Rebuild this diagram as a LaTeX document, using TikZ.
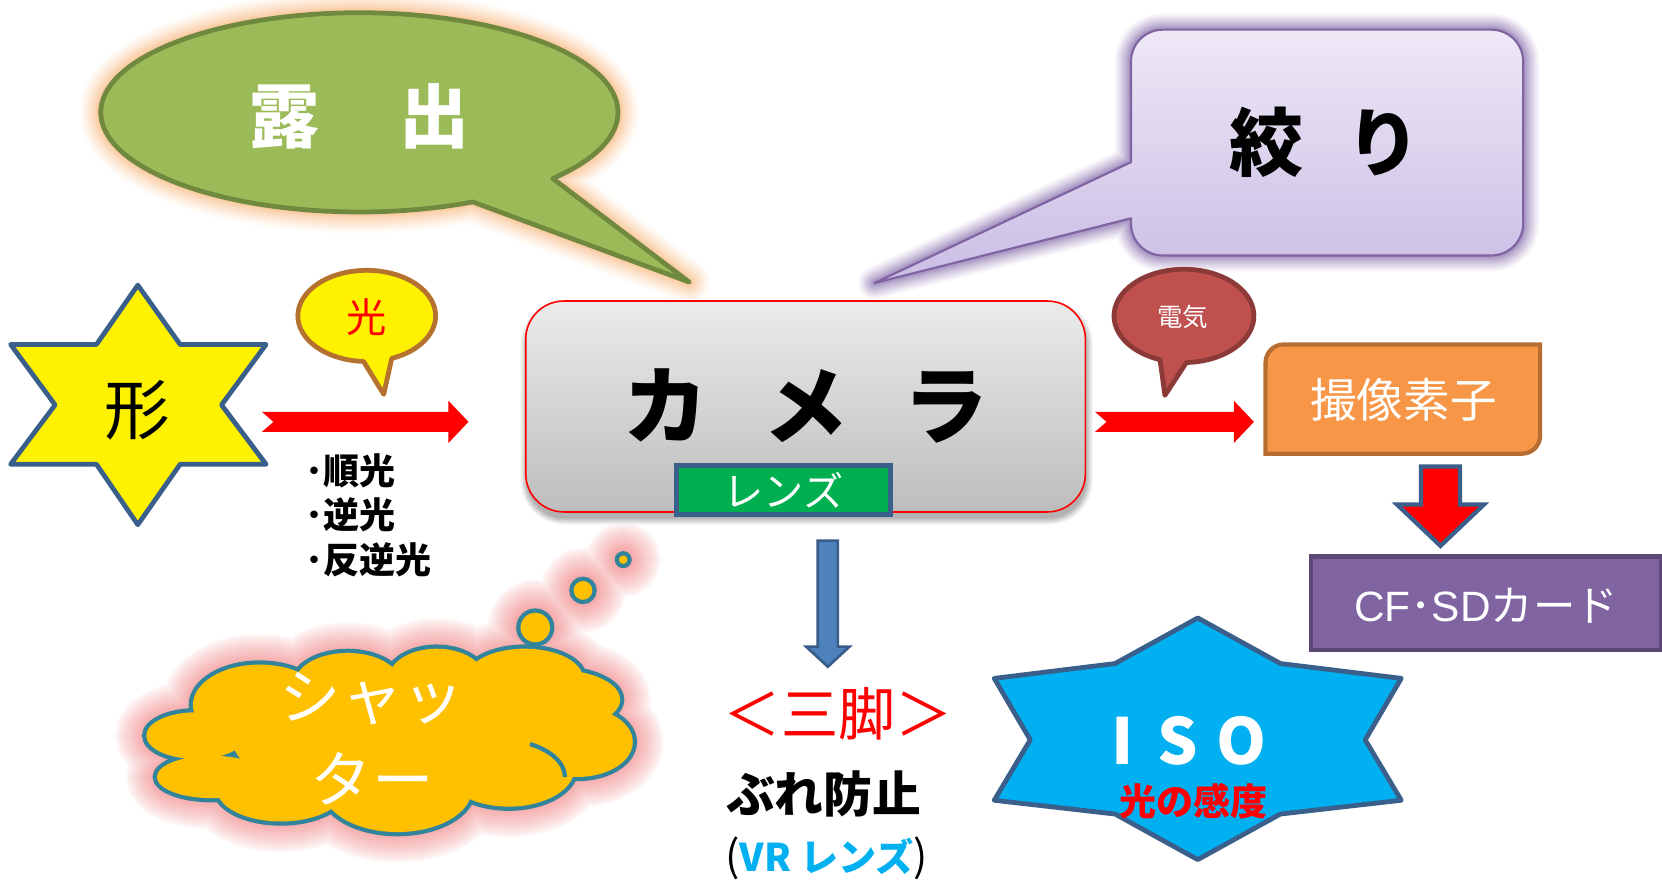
\documentclass[tikz,border=0pt]{standalone}
\usepackage{fontspec}
\setmainfont{Noto Sans CJK JP}
\newfontfamily\arialf{Liberation Sans}
\usetikzlibrary{calc}
\definecolor{gFill}{HTML}{9BBB59}
\definecolor{gLine}{HTML}{71893F}
\definecolor{gGlow}{HTML}{F7B57A}
\definecolor{pTop}{HTML}{EEE8F6}
\definecolor{pBot}{HTML}{CABDE5}
\definecolor{pLine}{HTML}{8064A2}
\definecolor{pGlow}{HTML}{8A70AE}
\definecolor{navy}{HTML}{3A5F8B}
\definecolor{brownL}{HTML}{B5722F}
\definecolor{camTop}{HTML}{EBEBEB}
\definecolor{camBot}{HTML}{BDBDBD}
\definecolor{lensG}{HTML}{00B050}
\definecolor{denkiF}{HTML}{C0504D}
\definecolor{denkiL}{HTML}{8C3A38}
\definecolor{orF}{HTML}{F79646}
\definecolor{orL}{HTML}{B66D31}
\definecolor{cardF}{HTML}{8064A2}
\definecolor{cardL}{HTML}{5C4776}
\definecolor{blueF}{HTML}{4F81BD}
\definecolor{blueL}{HTML}{385D8A}
\definecolor{isoF}{HTML}{00B0F0}
\definecolor{cloudF}{HTML}{FFC000}
\definecolor{cloudL}{HTML}{31849B}
\definecolor{cGlow}{HTML}{F4A2A2}
\definecolor{vrC}{HTML}{00B0F0}
\tikzset{
  lbl/.style={inner sep=0pt, outer sep=0pt},
  hblock/.style={to path={let \p1=(\tikztostart), \p2=(\tikztotarget) in
    (\x1,\y1+9.5pt) -- (\x2-19pt,\y1+9.5pt) -- (\x2-19pt,\y1+20pt) -- (\x2,\y1)
    -- (\x2-19pt,\y1-20pt) -- (\x2-19pt,\y1-9.5pt) -- (\x1,\y1-9.5pt) -- (\x1+11pt,\y1) -- cycle}},
  vblock/.style n args={3}{to path={let \p1=(\tikztostart), \p2=(\tikztotarget) in
    (\x1-#1,\y1) -- (\x1+#1,\y1) -- (\x1+#1,\y2+#3) -- (\x1+#2,\y2+#3) -- (\x2,\y2)
    -- (\x1-#2,\y2+#3) -- (\x1-#1,\y2+#3) -- cycle}},
}
\def\greenshape{(521.5,-168.4) arc[start angle=-41.6, end angle=296, x radius=244, y radius=94] -- (650,-266) -- cycle}
\def\purpleshape{(825,-267) -- (1067,-206) -- (1067,-211) arc[start angle=180,end angle=270,radius=30] -- (1407,-241) arc[start angle=270,end angle=360,radius=30] -- (1437,-58) arc[start angle=0,end angle=90,radius=30] -- (1097,-28) arc[start angle=90,end angle=180,radius=30] -- (1067,-153) -- cycle}
\def\cloudshape{(185,-694) ellipse[x radius=47,y radius=22]
 (200,-733) ellipse[x radius=52,y radius=20]
 (265,-745) ellipse[x radius=60,y radius=30]
 (375,-745) ellipse[x radius=70,y radius=40]
 (480,-725) ellipse[x radius=62,y radius=36]
 (545,-700) ellipse[x radius=52,y radius=33]
 (525,-660) ellipse[x radius=60,y radius=28]
 (495,-640) ellipse[x radius=55,y radius=28]
 (412,-640) ellipse[x radius=45,y radius=28]
 (328,-645) ellipse[x radius=50,y radius=29]
 (245,-665) ellipse[x radius=63,y radius=38]}
\def\bubbles{(505,-592) circle[radius=16] (550,-557) circle[radius=11] (588,-528) circle[radius=6]}
\begin{document}
\begin{tikzpicture}[x=1pt,y=1pt]
\useasboundingbox (0,0) rectangle (1568,-832);
% ---- glows and shadows
\foreach \i in {14,13,...,1}
  {\pgfmathsetmacro\w{3*\i}\pgfmathtruncatemacro\c{85*(1-\i/15)^1.3}
   \draw[line width=\w pt, draw=gGlow!\c, line join=round] \greenshape;}
\foreach \i in {12,11,...,1}
  {\pgfmathsetmacro\w{2.6*\i}\pgfmathtruncatemacro\c{85*(1-\i/13)^1.2}
   \draw[line width=\w pt, draw=pGlow!\c, line join=round] \purpleshape;}
\foreach \i in {16,15,...,1}
  {\pgfmathsetmacro\w{3.6*\i}\pgfmathtruncatemacro\c{100*(1-\i/17)^0.8}
   \draw[line width=\w pt, draw=cGlow!\c] \cloudshape \bubbles;}
\foreach \i in {6,5,...,1}
  {\pgfmathsetmacro\w{2*\i}\pgfmathtruncatemacro\c{30*(1-\i/7)}
   \draw[line width=\w pt, draw=black!\c, rounded corners=36pt] (497,-289) rectangle (1025,-489);}
\fill[black!30, rounded corners=36pt] (497,-289) rectangle (1025,-489);
% ---- callouts
\draw[fill=gFill, draw=gLine, line width=4.5pt, line join=round] \greenshape;
\draw[top color=pTop, bottom color=pBot, draw=pLine, line width=2pt, line join=round] \purpleshape;
% ---- star 形
\draw[fill=yellow, draw=navy, line width=4.5pt, line join=round]
  (130,-269) -- (170,-325) -- (251,-325) -- (209,-382) -- (251,-438) -- (170,-438)
  -- (130,-495) -- (91,-438) -- (10,-438) -- (52,-382) -- (10,-325) -- (91,-325) -- cycle;
% ---- 光 callout
\draw[fill=yellow, draw=brownL, line width=4.5pt, line join=round]
  (369.6,-338.1) arc[start angle=-68.7, end angle=267.3, x radius=65, y radius=43] -- (362,-372) -- cycle;
% ---- 電気 callout
\draw[fill=denkiF, draw=denkiL, line width=4.5pt, line join=round]
  (1119.3,-342) arc[start angle=-88, end angle=250, x radius=66, y radius=44] -- (1099,-373) -- cycle;
% ---- camera
\node[draw=red, line width=1.5pt, rounded corners=36pt, top color=camTop, bottom color=camBot,
  minimum width=528pt, minimum height=199pt, inner sep=0pt] (camera) at (760,-383.5) {};
\node[draw=navy, line width=4.5pt, fill=lensG, minimum width=202pt, minimum height=46pt, inner sep=0pt,
  text=white, font=\fontsize{38}{40}\selectfont] (lens) at (739,-462.5) {レンズ};
% ---- 撮像素子
\draw[fill=orF, draw=orL, line width=4pt]
  (1211,-325) -- (1453,-325) -- (1453,-411) arc[start angle=0,end angle=-90,radius=17]
  -- (1194,-428) -- (1194,-342) arc[start angle=180,end angle=90,radius=17] -- cycle;
% ---- CF card
\node[draw=cardL, line width=4pt, fill=cardF, minimum width=330pt, minimum height=88pt, inner sep=0pt] (cardbox) at (1402,-569) {};
% ---- cloud
\draw[draw=cloudL, line width=8pt] \cloudshape;
\fill[cloudF] \cloudshape (380,-700) ellipse[x radius=160, y radius=55];
\draw[draw=cloudL, line width=4pt] (500,-702) .. controls (520,-708) and (533,-720) .. (533,-733);
\draw[fill=cloudF, draw=cloudL, line width=4pt] \bubbles;
% ---- ISO star
\draw[fill=isoF, draw=navy, line width=4.5pt, line join=round]
  (1130,-583) -- (1208,-626) -- (1322,-640) -- (1288,-698) -- (1322,-755) -- (1208,-768)
  -- (1130,-811) -- (1052,-768) -- (938,-755) -- (972,-698) -- (938,-640) -- (1052,-626) -- cycle;
% ---- arrows
\coordinate (a1s) at (247,-398); \coordinate (a1e) at (442,-398);
\coordinate (a2s) at (1033,-398); \coordinate (a2e) at (1183,-398);
\coordinate (b1s) at (781,-510); \coordinate (b1e) at (781,-629);
\coordinate (r1s) at (1359,-440); \coordinate (r1e) at (1359,-515);
\fill[red, hblock] (a1s) to (a1e);
\fill[red, hblock] (a2s) to (a2e);
\draw[fill=blueF, draw=blueL, line width=2.5pt, line join=miter, vblock={9.5pt}{20.5pt}{19pt}] (b1s) to (b1e);
\draw[fill=red, draw=navy, line width=4pt, line join=miter, vblock={18.5pt}{41pt}{39pt}] (r1s) to (r1e);
% ---- texts
\node[lbl, text=white, font=\bfseries\fontsize{66}{70}\selectfont] (roshutsu) at (339,-110) {露\hspace{76pt}出};
\node[lbl, font=\bfseries\fontsize{70}{74}\selectfont] (shibori) at (1250,-134) {絞\hspace{40pt}り};
\node[lbl, font=\fontsize{62}{64}\selectfont] (katachi) at (130,-387) {形};
\node[lbl, text=red, font=\fontsize{38}{40}\selectfont] (hikari) at (346,-299) {光};
\node[lbl, anchor=west, align=left, font=\bfseries\fontsize{34}{42}\selectfont] (junko) at (288,-486) {･順光\\･逆光\\･反逆光};
\node[lbl, font=\bfseries\fontsize{80}{84}\selectfont] (cameralbl) at (760,-383) {カ\hspace{52pt}メ\hspace{52pt}ラ};
\node[lbl, text=white, font=\fontsize{24}{26}\selectfont] (denki) at (1116,-299) {電気};
\node[lbl, text=white, font=\fontsize{44}{46}\selectfont] (satsuzo) at (1324,-377) {撮像素子};
\node[lbl, text=white, font=\fontsize{40}{42}\selectfont] (card) at (1402,-571) {{\arialf CF}･{\arialf SD}カード};
\node[lbl, text=white, align=center, font=\fontsize{58}{78}\selectfont] (shutter) at (351,-697) {シャッ\\ター};
\node[lbl, text=red, font=\fontsize{54}{56}\selectfont] (sankyaku) at (791,-673) {＜三脚＞};
\node[lbl, font=\bfseries\fontsize{46}{48}\selectfont] (bure) at (777,-749) {ぶれ防止};
\node[lbl, font=\fontsize{36}{40}\selectfont] (vr) at (780,-810) {{\fontsize{40}{44}\selectfont (}{\color{vrC}\bfseries VR レンズ}{\fontsize{40}{44}\selectfont )}};
\node[lbl, text=white, font=\bfseries\fontsize{60}{64}\selectfont] (iso) at (1122,-699) {I\hspace{22pt}S\hspace{18pt}O};
\node[lbl, text=red, font=\bfseries\fontsize{35}{37}\selectfont] (kando) at (1126,-756) {光の感度};
\end{tikzpicture}
\end{document}
